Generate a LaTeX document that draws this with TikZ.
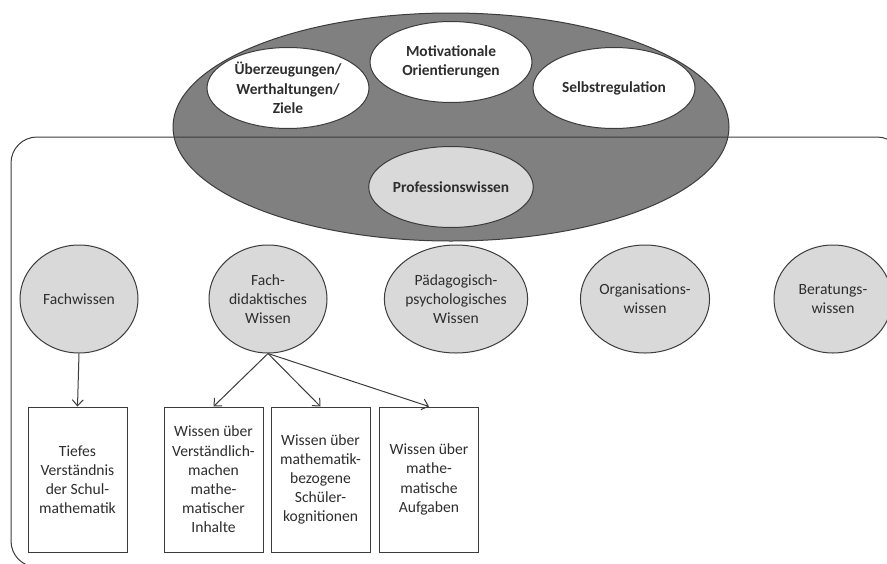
\documentclass[tikz,border=0pt]{standalone}
\usepackage{fontspec}
\setmainfont{Carlito}
\usetikzlibrary{shapes.geometric,arrows.meta}
\definecolor{outline}{HTML}{3C3C3C}
\definecolor{darkfill}{HTML}{808080}
\definecolor{lightfill}{HTML}{D9D9D9}
\definecolor{ink}{HTML}{2E2E2E}
\begin{document}
\begin{tikzpicture}[x=1pt,y=-1pt,
  base/.style={draw=outline,line width=1pt,text=ink,align=center,inner sep=0pt,
    font=\fontsize{15.6}{19.2}\selectfont},
  topoval/.style={base,ellipse,fill=white,minimum width=162pt,minimum height=81pt,
    font=\fontsize{15.4}{19.5}\selectfont\bfseries},
  knowcircle/.style={base,ellipse,fill=lightfill,minimum width=118pt,minimum height=108pt},
  facetbox/.style={base,rectangle,fill=white,minimum width=99pt,minimum height=145pt},
  link/.style={draw=outline,line width=1pt,-{Straight Barb[length=6pt,width=11pt]}}]
\useasboundingbox (0,0) rectangle (887,563);
\clip (0,0) rectangle (887,563);
\fill[white] (0,0) rectangle (887,563);

% outer competence ellipse
\node[ellipse,draw=outline,line width=1pt,fill=darkfill,
  minimum width=556pt,minimum height=228pt,inner sep=0pt] (kompetenz) at (451,127) {};

% frame around the knowledge domains
\draw[outline,line width=1pt,rounded corners=26pt] (11,137) rectangle (903,567);

% motivational and belief components
\node[topoval] (ueberz) at (288,88) {Überzeugungen/\\Werthaltungen/\\Ziele};
\node[topoval] (motiv) at (451,62) {Motivationale\\Orientierungen};
\node[topoval] (selbst) at (614,88) {Selbstregulation};
\node[topoval,fill=lightfill] (prof) at (451,187) {Professionswissen};

% knowledge domains
\node[knowcircle] (fach) at (79,299) {Fachwissen};
\node[knowcircle] (fachdid) at (268,299) {Fach-\\didaktisches\\Wissen};
\node[knowcircle] (paed) at (456,299) {Pädagogisch-\\psychologisches\\Wissen};
\node[knowcircle] (orga) at (645,299) {Organisations-\\wissen};
\node[knowcircle] (berat) at (833,299) {Beratungs-\\wissen};

% facets
\node[facetbox] (tief) at (77.5,479.5) {Tiefes\\Verständnis\\der Schul-\\mathematik};
\node[facetbox] (verst) at (213.5,479.5) {Wissen über\\Verständlich-\\machen\\mathe-\\matischer\\Inhalte};
\node[facetbox] (kogn) at (320.5,479.5) {Wissen über\\mathematik-\\bezogene\\Schüler-\\kognitionen};
\node[facetbox] (aufg) at (429,479.5) {Wissen über\\mathe-\\matische\\Aufgaben};

% connectors
\draw[link] (fach.south) -- (tief.north);
\draw[link] (fachdid.south) -- (verst.north);
\draw[link] (fachdid.south) -- (kogn.north);
\draw[link] (fachdid.south) -- (aufg.north);
\end{tikzpicture}
\end{document}
